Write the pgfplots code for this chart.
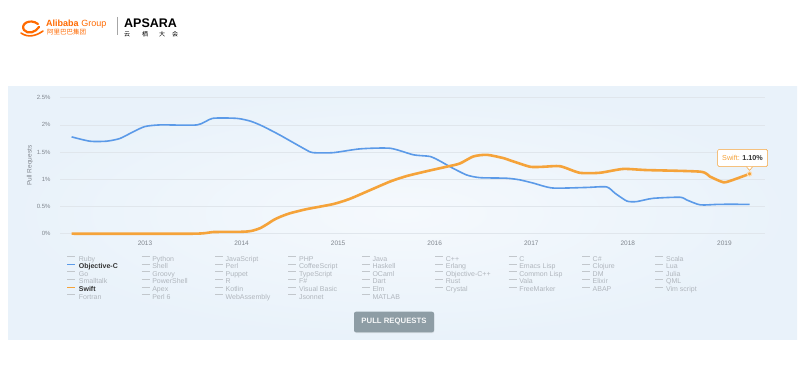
\documentclass[border=0pt]{standalone}
\usepackage{fontspec}
\setmainfont{Liberation Sans}
\newfontfamily\cjk{Noto Sans CJK SC}
\usepackage{pgfplots}
\pgfplotsset{compat=1.18}
\usetikzlibrary{shadows}
\definecolor{objc}{HTML}{5B9AE8}
\definecolor{swift}{HTML}{F5A33A}
\definecolor{panelin}{HTML}{F5F9FD}
\definecolor{panelout}{HTML}{E9F2FA}
\definecolor{gridc}{HTML}{E0E6EC}
\definecolor{tickc}{HTML}{80868E}
\definecolor{legtext}{HTML}{B0B6BD}
\definecolor{legline}{HTML}{C2C7CC}
\definecolor{ali}{HTML}{FF6A00}
\definecolor{btn}{HTML}{8E9DA5}
\definecolor{darkt}{HTML}{333333}
\newcommand{\li}[1]{\addlegendimage{legline,line width=1pt}\addlegendentry{\makebox[60pt][l]{\textcolor{legtext}{#1}}}}
\begin{document}
\begin{tikzpicture}
\useasboundingbox (0pt,0pt) rectangle (800pt,374pt);
\fill[white] (0pt,0pt) rectangle (800pt,374pt);
\shade[inner color=panelin, outer color=panelout] (8pt,34pt) rectangle (797pt,287.3pt);
% logo
\draw[ali, line width=2.2pt, line cap=round] (38pt,350pt) .. controls (30pt,356pt) and (20pt,350pt) .. (24pt,344pt) .. controls (28pt,339pt) and (36pt,342pt) .. (39pt,347pt);
\draw[ali, line width=1.6pt, line cap=round] (21pt,341pt) .. controls (28pt,336pt) and (36pt,338pt) .. (43pt,343pt);
\node[anchor=west, text=ali, font=\fontsize{9}{10}\selectfont, inner sep=0pt] at (46pt,350.3pt) {\textbf{Alibaba} Group};
\node[anchor=west, text=ali, font=\cjk\fontsize{6.5}{7}\selectfont, inner sep=0pt] at (47pt,341.5pt) {阿里巴巴集团};
\draw[gray!70, line width=0.6pt] (117pt,357pt) -- (117pt,339pt);
\node[anchor=west, font=\fontsize{12.5}{13}\selectfont\bfseries, inner sep=0pt] at (124pt,351pt) {APSARA};
\foreach \xx/\cc in {127/云,145/栖,162/大,175/会}
  \node[font=\cjk\fontsize{6}{6}\selectfont, inner sep=0pt] at (\xx pt,339.5pt) {\cc};
% button
\node[fill=btn, rounded corners=2pt, minimum width=80pt, minimum height=20.6pt, text=white!92!btn,
  font=\fontsize{7.75}{8}\selectfont\bfseries, inner sep=0pt,
  drop shadow={opacity=0.15, shadow xshift=0.4pt, shadow yshift=-0.8pt}] at (394pt,52pt) {PULL REQUESTS};
\begin{axis}[
  at={(60pt,140.3pt)}, anchor=south west, scale only axis,
  width=705pt, height=136pt,
  xmin=2012.12, xmax=2019.42, ymin=0, ymax=2.5,
  clip=false,
  axis line style={draw=none},
  major tick length=0pt,
  ymajorgrids, major grid style={gridc, line width=0.6pt},
  xtick={2013,2014,2015,2016,2017,2018,2019},
  xticklabels={2013,2014,2015,2016,2017,2018,2019},
  ytick={0,0.5,1,1.5,2,2.5},
  yticklabels={0\%,0.5\%,1\%,1.5\%,2\%,2.5\%},
  xticklabel style={font=\fontsize{6.5}{7}\selectfont, text=tickc, yshift=-3.5pt},
  yticklabel style={font=\fontsize{6}{7}\selectfont, text=tickc, xshift=-6pt},
  ylabel={Pull Requests},
  ylabel style={at={(axis description cs:-0.0426,0.5)}, anchor=center, font=\fontsize{6.5}{7}\selectfont, text=tickc},
  legend columns=9,
  legend cell align=left,
  legend style={draw=none, fill=none, at={(0.00837,-0.158)}, anchor=north west,
    inner xsep=0pt, inner ysep=0pt, column sep=1.4pt,
    font=\fontsize{7}{7.6}\selectfont,
    nodes={inner sep=0.8pt, text height=5pt, text depth=1pt}},
  legend image code/.code={\path (0pt,0pt) (8pt,0pt); \draw[line width=1pt,#1] (0pt,2.4pt) -- (8pt,2.4pt);},
]
\li{Ruby}\li{Python}\li{JavaScript}\li{PHP}\li{Java}\li{C++}\li{C}\li{C\#}\li{Scala}
\addplot[objc, line width=1.6pt, smooth, tension=0.4] coordinates {
(2012.24,1.78) (2012.43,1.70) (2012.60,1.70) (2012.74,1.75) (2012.88,1.875)
(2013.00,1.97) (2013.16,2.00) (2013.54,2.00) (2013.70,2.12) (2013.95,2.12)
(2014.09,2.07) (2014.19,2.00) (2014.26,1.94) (2014.40,1.81) (2014.67,1.54)
(2014.74,1.49) (2014.95,1.49) (2015.23,1.56) (2015.54,1.57) (2015.78,1.45)
(2015.95,1.42) (2016.05,1.34) (2016.16,1.23) (2016.33,1.08) (2016.47,1.03)
(2016.74,1.02) (2016.88,0.99) (2017.02,0.93) (2017.22,0.84) (2017.57,0.85)
(2017.78,0.86) (2017.87,0.74) (2017.99,0.60) (2018.09,0.59) (2018.26,0.65)
(2018.54,0.67) (2018.61,0.62) (2018.75,0.53) (2018.95,0.54) (2019.26,0.54)};
\addlegendentry{\makebox[60pt][l]{\textcolor{darkt}{\bfseries Objective-C}}}
\li{Shell}\li{Perl}\li{CoffeeScript}\li{Haskell}\li{Erlang}\li{Emacs Lisp}\li{Clojure}\li{Lua}
\li{Go}\li{Groovy}\li{Puppet}\li{TypeScript}\li{OCaml}\li{Objective-C++}\li{Common Lisp}\li{DM}\li{Julia}
\li{Smalltalk}\li{PowerShell}\li{R}\li{F\#}\li{Dart}\li{Rust}\li{Vala}\li{Elixir}\li{QML}
\addplot[swift, line width=2.6pt, smooth, tension=0.4] coordinates {
(2012.24,0) (2013.50,0) (2013.70,0.03) (2014.00,0.035) (2014.10,0.05)
(2014.19,0.10) (2014.26,0.17) (2014.33,0.25) (2014.40,0.31) (2014.50,0.375)
(2014.67,0.45) (2014.95,0.545) (2015.12,0.64) (2015.33,0.80) (2015.54,0.96)
(2015.71,1.06) (2015.92,1.15) (2016.12,1.23) (2016.26,1.29) (2016.40,1.42)
(2016.54,1.45) (2016.71,1.39) (2016.81,1.33) (2016.99,1.23) (2017.12,1.23)
(2017.30,1.24) (2017.50,1.12) (2017.71,1.12) (2017.95,1.19) (2018.19,1.17)
(2018.75,1.14) (2018.85,1.05) (2018.99,0.945) (2019.09,0.99) (2019.26,1.10)};
\addlegendentry{\makebox[60pt][l]{\textcolor{darkt}{\bfseries Swift}}}
\li{Apex}\li{Kotlin}\li{Visual Basic}\li{Elm}\li{Crystal}\li{FreeMarker}\li{ABAP}\li{Vim script}
\li{Fortran}\li{Perl 6}\li{WebAssembly}\li{Jsonnet}\li{MATLAB}
\addplot[forget plot, only marks, mark=*, mark size=2.2pt, color=swift, mark options={draw=swift!35, line width=1pt}] coordinates {(2019.26,1.10)};
\node[draw=swift, line width=0.5pt, fill=white, rounded corners=1.5pt, minimum width=50pt, minimum height=17.3pt, inner sep=1pt, font=\fontsize{7.2}{8}\selectfont] (tt) at ([xshift=-7pt,yshift=15.9pt]axis cs:2019.26,1.10) {\textcolor{swift}{Swift:} \textcolor{darkt}{\bfseries 1.10\%}};
\filldraw[draw=swift, fill=white, line width=0.5pt] ([xshift=4pt]tt.south) -- ([xshift=7pt,yshift=-3.5pt]tt.south) -- ([xshift=10pt]tt.south);
\end{axis}
\end{tikzpicture}
\end{document}
